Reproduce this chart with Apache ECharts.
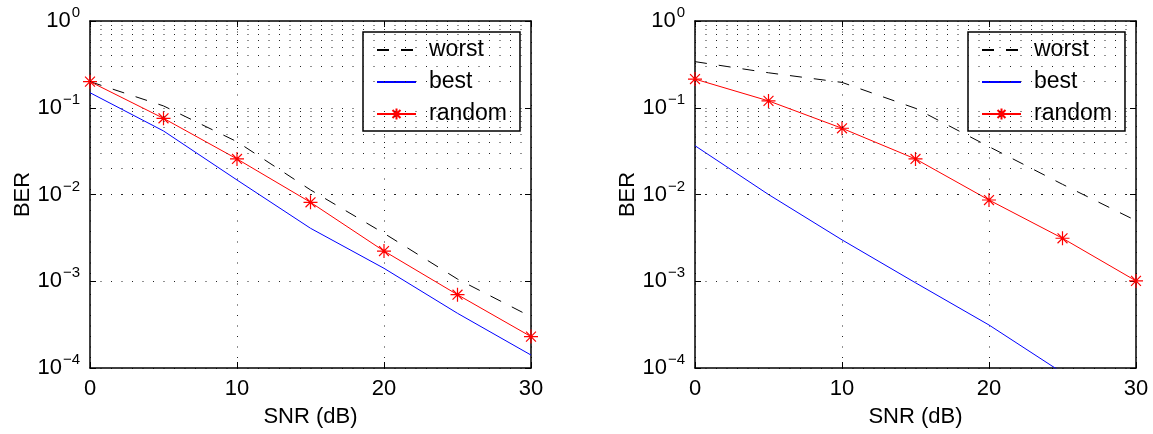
<!DOCTYPE html>
<html>
<head>
<meta charset="utf-8">
<script src="https://cdn.jsdelivr.net/npm/echarts@6/dist/echarts.min.js"></script>
<style>
  html, body { margin: 0; padding: 0; background: #fff; }
  #chart { width: 1153px; height: 434px; }
</style>
</head>
<body>
<div id="chart"></div>
<script>
// ---- data ----
var snr = [0, 5, 10, 15, 20, 25, 30];
var xTicks = [0, 10, 20, 30];
var seriesNames = ['worst', 'best', 'random'];

// left panel
var worstLeft  = [0.20, 0.105, 0.0406, 0.0113, 0.00357, 0.00106, 0.00039];
var bestLeft   = [0.149, 0.054, 0.0147, 0.00408, 0.00141, 0.000427, 0.000141];
var randomLeft = [0.20, 0.0755, 0.0257, 0.00813, 0.00223, 0.0007, 0.00023];

// right panel
var worstRight  = [0.34, 0.253, 0.196, 0.0985, 0.0356, 0.0131, 0.005];
var bestRight   = [0.0365, 0.01, 0.003, 0.00096, 0.000313, 0.000088, 0.000026];
var randomRight = [0.214, 0.12, 0.058, 0.0257, 0.00864, 0.00313, 0.00101];

// y range (decades) and minor grid multipliers
var yMin = 1e-4, yMax = 1;
var decades = [1e-4, 1e-3, 1e-2, 1e-1];
var minorMult = [2, 3, 4, 5, 6, 7, 8, 9];

// ---- build ----
var FONT = 'Liberation Sans, Arial, Helvetica, sans-serif';
var dotted = { color: '#222', width: 1, type: [1, 9.5] };
var starPath = 'path://M0,-10L0,10M-10,0L10,0M-7.07,-7.07L7.07,7.07M-7.07,7.07L7.07,-7.07';
var blankPath = 'path://M0,0L10,10';

function pairs(ys) { return snr.map(function (x, i) { return [x, ys[i]]; }); }

var minorLines = [];
decades.forEach(function (d) {
  minorMult.forEach(function (m) { minorLines.push({ yAxis: d * m }); });
});

function yLabel(v) {
  var e = Math.round(Math.log10(v));
  var s = e === 0 ? '0' : '\u2212' + (-e);
  return '{b|10}{s|' + s + '}';
}

var grids = [
  { left: 90, top: 21, width: 441, height: 347 },
  { left: 695, top: 21, width: 441, height: 347 }
];

var xAxes = [], yAxes = [], series = [], legends = [];
var panels = [
  { w: worstLeft, b: bestLeft, r: randomLeft, legendLeft: 363 },
  { w: worstRight, b: bestRight, r: randomRight, legendLeft: 968 }
];

panels.forEach(function (p, gi) {
  var axisLine = { show: true, onZero: false, lineStyle: { color: '#000', width: 1.5 } };
  xAxes.push({
    type: 'value', gridIndex: gi, position: 'bottom', min: 0, max: 30, interval: 10,
    axisLine: axisLine,
    axisTick: { show: true, inside: true, length: 6, lineStyle: { color: '#000' } },
    axisLabel: { color: '#000', fontSize: 22, fontFamily: FONT, margin: 10 },
    splitLine: { show: true, lineStyle: dotted },
    name: 'SNR (dB)', nameLocation: 'middle', nameGap: 38,
    nameTextStyle: { color: '#000', fontSize: 22, fontFamily: FONT }
  });
  xAxes.push({
    type: 'value', gridIndex: gi, position: 'top', min: 0, max: 30, interval: 10,
    axisLine: axisLine,
    axisTick: { show: true, inside: true, length: 6, lineStyle: { color: '#000' } },
    axisLabel: { show: false }, splitLine: { show: false }
  });
  yAxes.push({
    type: 'log', logBase: 10, gridIndex: gi, position: 'left', min: yMin, max: yMax,
    axisLine: axisLine,
    axisTick: { show: true, inside: true, length: 6, lineStyle: { color: '#000' } },
    axisLabel: {
      formatter: yLabel, margin: 10, fontFamily: FONT,
      rich: {
        b: { fontSize: 22, color: '#000', fontFamily: FONT },
        s: { fontSize: 15, color: '#000', fontFamily: FONT, padding: [0, 0, 16, 1] }
      }
    },
    splitLine: { show: true, lineStyle: dotted },
    name: 'BER', nameLocation: 'middle', nameGap: 56,
    nameTextStyle: { color: '#000', fontSize: 22, fontFamily: FONT }
  });
  yAxes.push({
    type: 'log', logBase: 10, gridIndex: gi, position: 'right', min: yMin, max: yMax,
    axisLine: axisLine,
    axisTick: { show: true, inside: true, length: 6, lineStyle: { color: '#000' } },
    axisLabel: { show: false }, splitLine: { show: false }
  });

  var xi = gi * 2, yi = gi * 2;
  series.push({
    name: '_minor' + gi, type: 'line', xAxisIndex: xi, yAxisIndex: yi, data: [],
    silent: true, z: 1,
    markLine: { silent: true, symbol: 'none', label: { show: false },
      lineStyle: dotted, data: minorLines, animation: false }
  });
  series.push({
    name: 'worst', type: 'line', xAxisIndex: xi, yAxisIndex: yi, data: pairs(p.w),
    showSymbol: false, symbol: blankPath, z: 3,
    lineStyle: { color: '#000', width: 1, type: [12, 12] }, itemStyle: { color: '#000' }
  });
  series.push({
    name: 'best', type: 'line', xAxisIndex: xi, yAxisIndex: yi, data: pairs(p.b),
    showSymbol: false, symbol: blankPath, z: 3,
    lineStyle: { color: '#0000ff', width: 1 }, itemStyle: { color: '#0000ff' }
  });
  series.push({
    name: 'random', type: 'line', xAxisIndex: xi, yAxisIndex: yi, data: pairs(p.r),
    symbol: starPath, symbolSize: 14, showSymbol: true, z: 4,
    lineStyle: { color: '#ff0000', width: 1 },
    itemStyle: { color: 'none', borderColor: '#ff0000', borderWidth: 1.2 }
  });

  legends.push({
    data: seriesNames,
    orient: 'vertical', left: p.legendLeft, top: 32,
    backgroundColor: '#fff', borderColor: '#000', borderWidth: 1.5, borderRadius: 0,
    padding: [3, 13, 2, 13], itemGap: 2, itemWidth: 39, itemHeight: 14,
    selectedMode: false,
    textStyle: { color: '#000', fontSize: 23, fontFamily: FONT, lineHeight: 24,
      padding: [6, 0, 0, 8] }
  });
});

var chart = echarts.init(document.getElementById('chart'), null, { renderer: 'canvas' });
chart.setOption({
  animation: false,
  backgroundColor: '#fff',
  textStyle: { fontFamily: FONT },
  grid: grids,
  xAxis: xAxes,
  yAxis: yAxes,
  legend: legends,
  series: series
});
</script>
</body>
</html>
